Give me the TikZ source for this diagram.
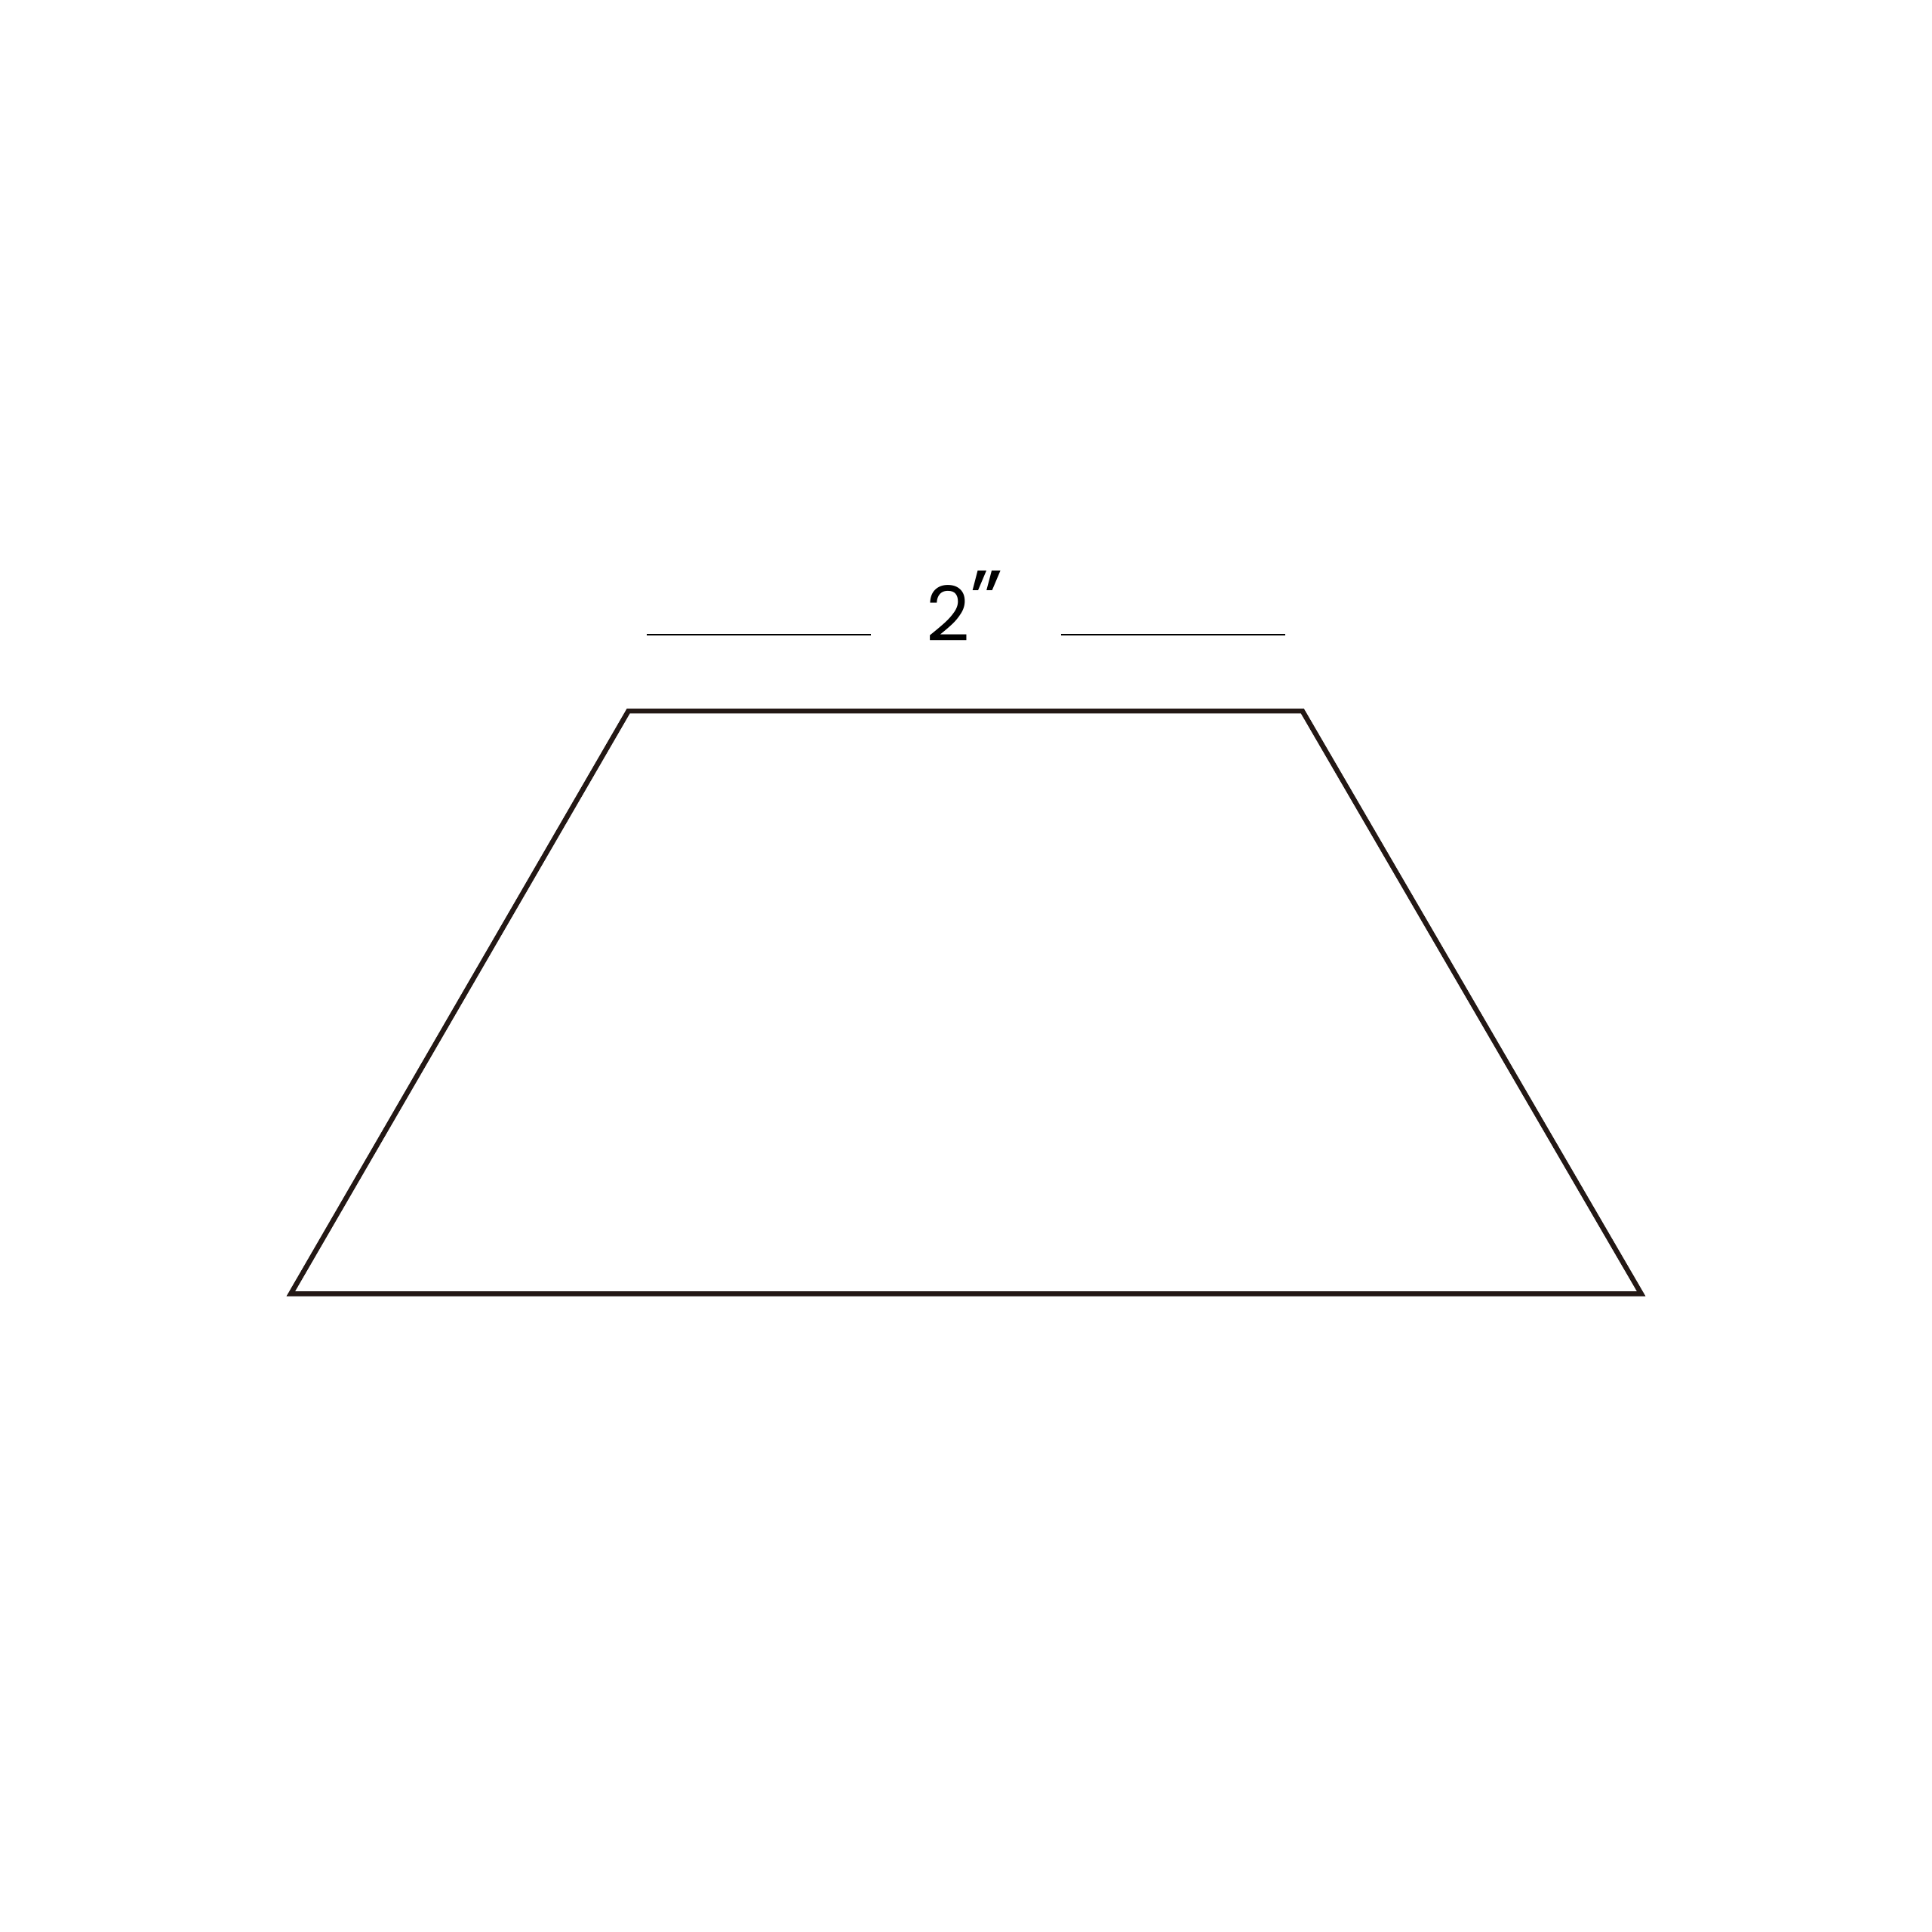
\documentclass[tikz,border=0pt]{standalone}
\usepackage{fontspec}
\setmainfont{Poppins}
\usetikzlibrary{positioning}
\definecolor{ink}{HTML}{231815}

\begin{document}
\begin{tikzpicture}[x=0.01cm, y=-0.01cm,
    shape line/.style={draw=ink, line width=1.15pt, line join=miter},
    dim line/.style={draw=black, line width=0.45pt}]

  \small

  \useasboundingbox (0, 0) rectangle (1568, 1568);

  % corners of the piece
  \coordinate (tl) at ( 510,  577);
  \coordinate (tr) at (1057,  577);
  \coordinate (br) at (1332, 1050);
  \coordinate (bl) at ( 236, 1050);

  \draw[shape line] (tl) -- (tr) -- (br) -- (bl) -- cycle;

  % width mark
  \node[anchor=base, inner sep=0pt, font=\fontsize{17.5}{20}\selectfont]
    (width) at (783, 520) {2\raisebox{2.2pt}{\fontsize{20}{22}\selectfont ”}};
  \coordinate (dimLa) at ( 525, 515);
  \coordinate (dimLb) at ( 707, 515);
  \coordinate (dimRa) at ( 861, 515);
  \coordinate (dimRb) at (1043, 515);
  \draw[dim line] (dimLa) -- (dimLb);
  \draw[dim line] (dimRa) -- (dimRb);
\end{tikzpicture}
\end{document}
